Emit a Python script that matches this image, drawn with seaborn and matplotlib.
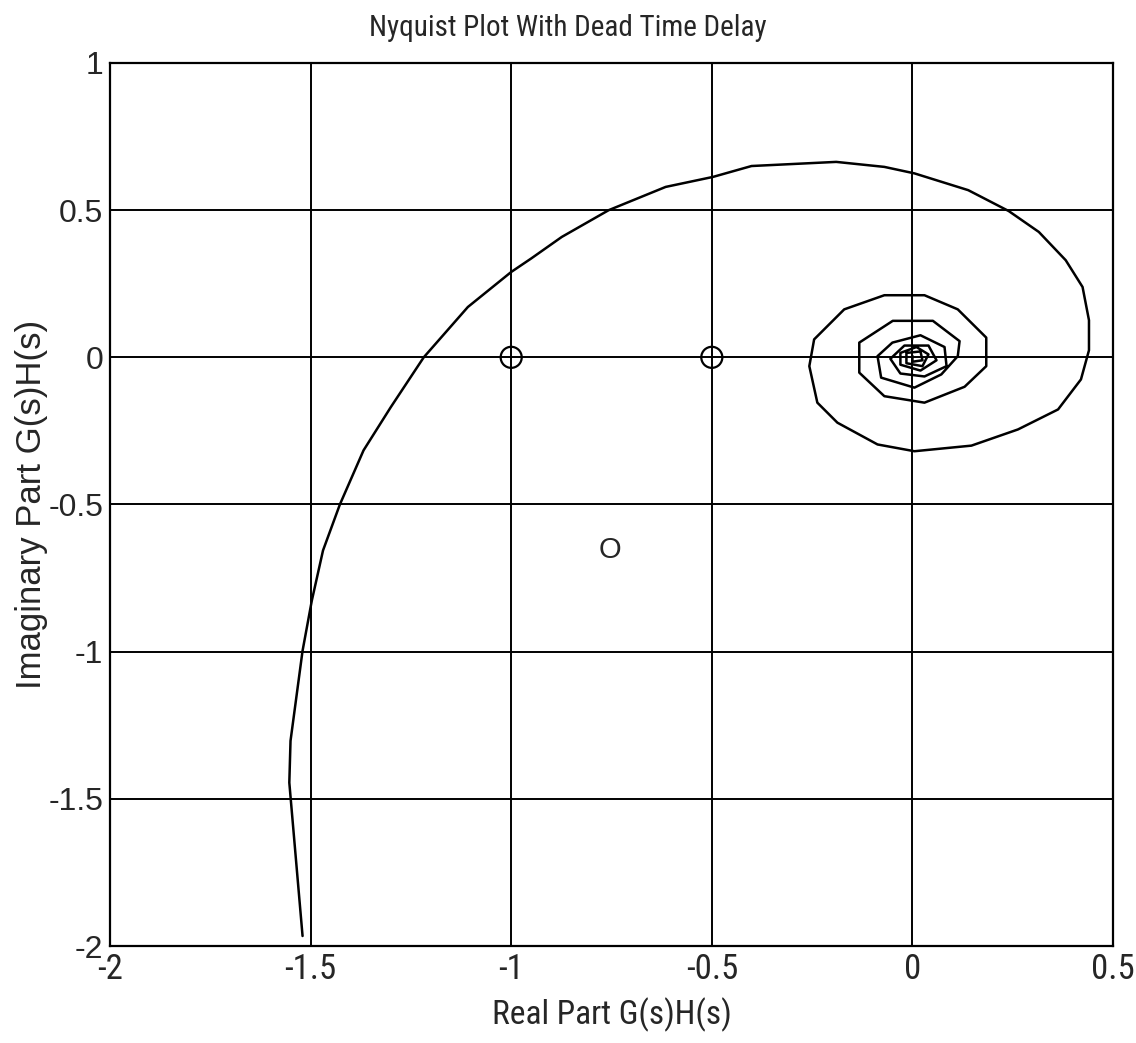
import pandas as pd
import seaborn as sns
import matplotlib.pyplot as plt

# Nyquist locus (real, imaginary), low to high frequency
re_part = [-1.52, -1.553, -1.55, -1.52, -1.497, -1.469, -1.427, -1.368, -1.30, -1.218,
           -1.108, -1.0, -0.95, -0.874, -0.757, -0.615, -0.497, -0.401, -0.19, -0.07,
           0.005, 0.139, 0.24, 0.315, 0.382, 0.424, 0.44, 0.44, 0.42, 0.363,
           0.263, 0.147, 0.005, -0.087, -0.187, -0.237, -0.257, -0.245, -0.17, -0.07,
           0.03, 0.113, 0.184, 0.184, 0.13, 0.03, -0.07, -0.1325, -0.1325, -0.049,
           0.051, 0.1175, 0.113, 0.072, 0.005, -0.078, -0.087, -0.05, 0.02, 0.08,
           0.085, 0.03, -0.03, -0.055, -0.02, 0.04, 0.06, 0.02, -0.03, -0.03,
           0.01, 0.04, 0.025, -0.015, -0.015, 0.02, 0.025, 0.0, 0.0]
im_part = [-1.966, -1.445, -1.303, -0.997, -0.827, -0.656, -0.5, -0.316, -0.169, 0.0,
           0.171, 0.29, 0.336, 0.409, 0.5, 0.579, 0.613, 0.65, 0.664, 0.647,
           0.625, 0.568, 0.497, 0.426, 0.33, 0.239, 0.126, 0.024, -0.075, -0.177,
           -0.245, -0.30, -0.319, -0.296, -0.222, -0.154, -0.03, 0.061, 0.163, 0.211,
           0.211, 0.163, 0.067, -0.03, -0.10, -0.154, -0.132, -0.052, 0.05, 0.124,
           0.124, 0.055, 0.004, -0.058, -0.103, -0.069, 0.004, 0.05, 0.075, 0.035,
           -0.03, -0.065, -0.055, -0.005, 0.04, 0.04, -0.01, -0.045, -0.025, 0.015,
           0.035, 0.01, -0.03, -0.02, 0.015, 0.02, -0.01, -0.015, 0.005]

# open circle markers on the real axis
marker_re = [-1.0, -0.5]
marker_im = [0.0, 0.0]

# stray "O" label
label_pos = (-0.754, -0.656)

x_ticks = [-2, -1.5, -1, -0.5, 0, 0.5]
x_labels = ["-2", "-1.5", "-1", "-0.5", "0", "0.5"]
y_ticks = [-2, -1.5, -1, -0.5, 0, 0.5, 1]
y_labels = ["-2", "-1.5", "-1", "-0.5", "0", "0.5", "1"]

sns.set_style("white")
plt.rcParams['font.family'] = ['Liberation Sans', 'DejaVu Sans']
narrow = ['Liberation Sans Narrow', 'Roboto Condensed', 'Liberation Sans', 'DejaVu Sans']

curve = pd.DataFrame({"re": re_part, "im": im_part})
marks = pd.DataFrame({"re": marker_re, "im": marker_im})

fig = plt.figure(figsize=(11.36, 10.43), dpi=100)
ax = fig.add_axes([0.0968, 0.093, 0.8830, 0.8466])

sns.lineplot(data=curve, x="re", y="im", sort=False, estimator=None,
             color="black", linewidth=1.8, ax=ax, zorder=3)
sns.scatterplot(data=marks, x="re", y="im", marker="o", s=230,
                facecolor="none", edgecolor="black", linewidth=1.6, ax=ax, zorder=4)
ax.text(label_pos[0], label_pos[1], "O", fontsize=21, ha="center", va="center")

ax.set_xlim(-2, 0.5)
ax.set_ylim(-2, 1)
ax.set_xticks(x_ticks)
ax.set_xticklabels(x_labels, family=narrow, fontsize=25)
ax.set_yticks(y_ticks)
ax.set_yticklabels(y_labels, fontsize=23)
ax.tick_params(length=0, pad=5)
ax.grid(True, color="black", linewidth=1.4)
for s in ax.spines.values():
    s.set_color("black")
    s.set_linewidth(1.6)

# title sits over the middle of the figure, not the axes
fig.text(0.5, 0.973, "Nyquist Plot With Dead Time Delay", family=narrow,
         fontsize=21, ha="center", va="center")
ax.set_xlabel("Real Part G(s)H(s)", family=narrow, fontsize=24, labelpad=8)
ax.set_ylabel("Imaginary Part G(s)H(s)", fontsize=25, labelpad=0)

fig.savefig("out.png", dpi=100)
